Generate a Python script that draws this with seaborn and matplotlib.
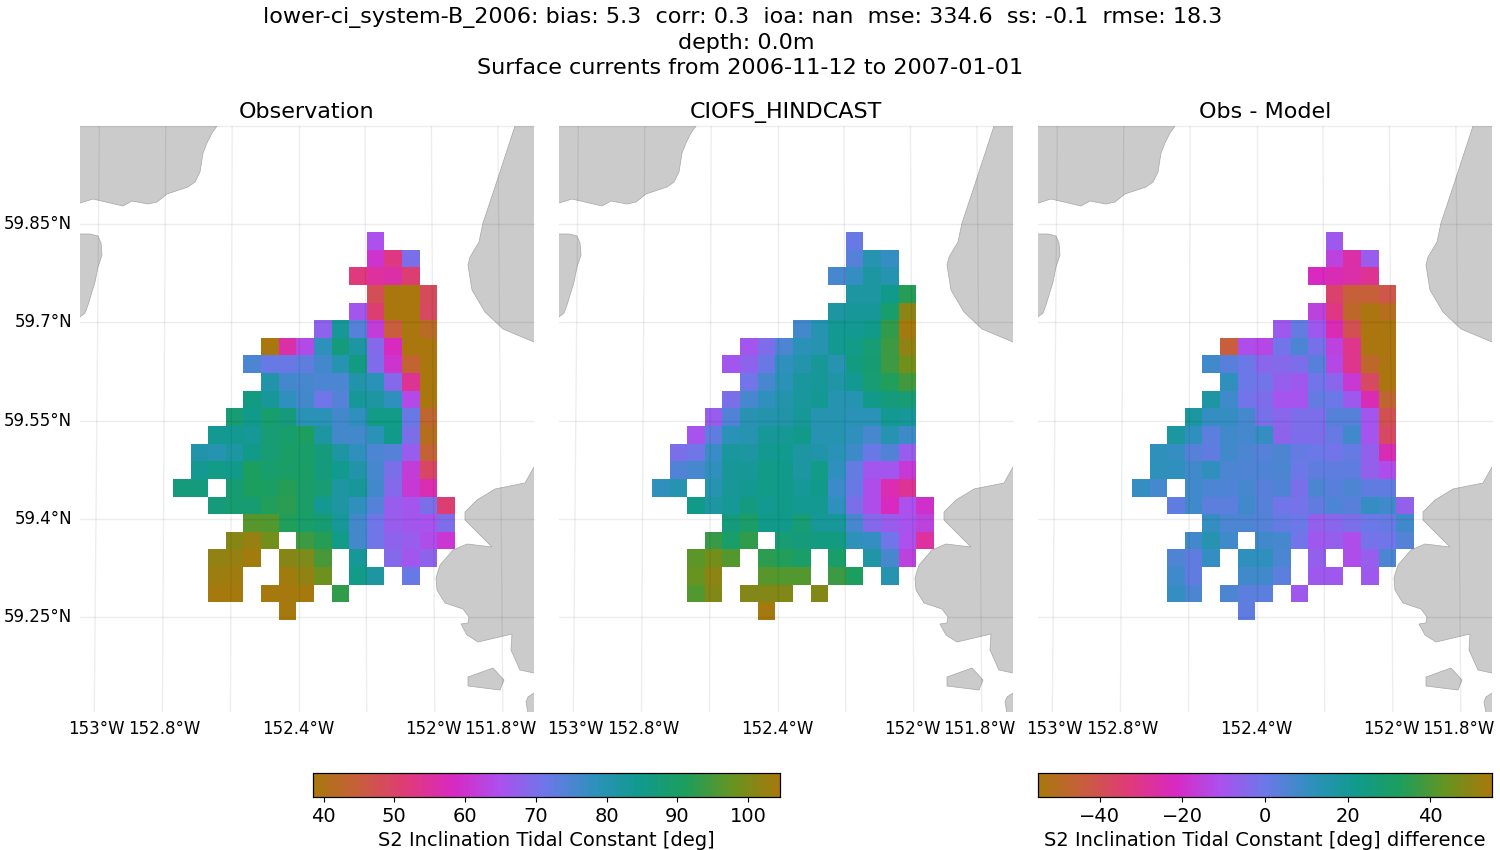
#!/usr/bin/env python3
"""Tidal constant comparison maps: observation, model and their difference."""

import numpy as np
import matplotlib
matplotlib.use("Agg")
import matplotlib.pyplot as plt
from matplotlib.colors import LinearSegmentedColormap
from matplotlib.transforms import ScaledTranslation
import seaborn as sns

_ = None

# values, one row per latitude band (north to south)
obs_values = [
    [_, _, _, _, _, _, _, _, _, _, _, 65, _, _, _, _],
    [_, _, _, _, _, _, _, _, _, _, _, 60, 52.5, 70, _, _],
    [_, _, _, _, _, _, _, _, _, _, 52, 55, 56, 51, _, _],
    [_, _, _, _, _, _, _, _, _, _, _, 48, 39, 39, 48.5, _],
    [_, _, _, _, _, _, _, _, _, _, 66, 51, 39, 39, 49, _],
    [_, _, _, _, _, _, _, _, 68, 83, 74, 61.5, 45, 39, 42, _],
    [_, _, _, _, _, 39, 56, 64, 78, 87, 82, 69, 58, 39, 39, _],
    [_, _, _, _, 75, 72, 72, 73, 76, 80, 86, 69.5, 60, 43.5, 39, _],
    [_, _, _, _, _, 81, 76, 75.5, 75, 75, 81, 79, 69, 54, 39, _],
    [_, _, _, _, 86, 83, 78, 76, 71, 74, 83, 82, 78, 64, 39, _],
    [_, _, _, 88, 85, 89, 87, 79, 79, 76, 78, 85.5, 85.5, 72, 43, _],
    [_, _, 84, 84, 83.5, 88, 89, 91, 82, 76, 76, 79, 85, 70, 41, _],
    [_, 81, 80, 82, 85, 88, 90, 89.5, 87, 82, 78, 75, 74, 67, 44, _],
    [_, 84, 85.5, 85, 91, 89, 90, 90, 87, 84.5, 81, 75.5, 70, 61.5, 49.5, _],
    [87, 87, _, 88.5, 91, 90.5, 92, 90, 88, 82, 83, 76, 69, 61, 57, _],
    [_, _, 87, 88.5, 88.5, 91.5, 92.5, 90, 84, 82, 78, 74, 67, 66, 70, 51],
    [_, _, _, _, 96.5, 96, 91.5, 89.5, 88.5, 83, 76, 71, 67, 66, 65.5, 69.5],
    [_, _, _, 101, 102.5, 99, _, 94, 92, 85.5, 76, 71, 68, 67, 64.5, 60.5],
    [_, _, 102, 102.5, 103.5, _, 101, 100, 95, _, 83, _, 69, 66, 68, _],
    [_, _, 103, 103.5, _, _, 103.5, 102, 98.5, _, 85.5, 82, _, 72, _, _],
    [_, _, 104, 104, _, 104, 104, 104, _, 93, _, _, _, _, _, _],
    [_, _, _, _, _, _, 104, _, _, _, _, _, _, _, _, _],
]

model_values = [
    [_, _, _, _, _, _, _, _, _, _, _, 72, _, _, _, _],
    [_, _, _, _, _, _, _, _, _, _, _, 74, 80, 77.5, _, _],
    [_, _, _, _, _, _, _, _, _, _, 75.5, 77.5, 82, 80, _, _],
    [_, _, _, _, _, _, _, _, _, _, _, 82, 82, 85, 92, _],
    [_, _, _, _, _, _, _, _, _, _, 82, 83, 83, 89, 101.5, _],
    [_, _, _, _, _, _, _, _, 76, 80, 84, 84, 85, 93, 104, _],
    [_, _, _, _, _, 66, 69.5, 75, 79, 80, 84, 85.5, 88, 94, 102, _],
    [_, _, _, _, 66, 68, 72, 78, 80.5, 83, 80, 86, 88.5, 94, 99, _],
    [_, _, _, _, _, 71, 75.5, 79, 82.5, 83, 81.5, 84, 88, 91.5, 94.5, _],
    [_, _, _, _, 70, 75.5, 78, 80.5, 82.5, 84, 80, 80, 85, 87, 88, _],
    [_, _, _, 67, 74.5, 79.5, 80.5, 81, 83, 80, 80, 79, 79, 84, 83, _],
    [_, _, 65.5, 73, 79, 80, 83, 83.5, 85, 79.5, 80, 78, 75.5, 80, 76.5, _],
    [_, 70, 71, 77, 82.5, 82, 84, 84.5, 82, 81, 79, 76.5, 72, 74.5, 67, _],
    [_, 74.5, 75.5, 78, 83, 83.5, 85.5, 85, 82, 85.5, 78, 72.5, 66, 66, 61, _],
    [78, 80, _, 80, 83, 84, 85.5, 85, 83.5, 85, 76.5, 72, 64.5, 57, 54, _],
    [_, _, 85, 82, 83.5, 86.5, 84, 85, 84, 84, 78, 70, 64.5, 58, 65, 59.5],
    [_, _, _, _, 87, 90, 85, 85, 88, 83, 83, 75.5, 69, 67, 65.5, 62.5],
    [_, _, _, 93.5, 89.5, 93, _, 88, 87, 86.5, 86, 78.5, 77.5, 71, 65, 55],
    [_, _, 97, 99, 96, _, 92.5, 91.5, 90, _, 89.5, _, 81.5, 75.5, 62.5, _],
    [_, _, 98, 101.5, _, _, 96.5, 96, 96, _, 94, 91, _, 80, _, _],
    [_, _, 96, 100.5, _, 100.5, 100.5, 100.5, _, 100.5, _, _, _, _, _, _],
    [_, _, _, _, _, _, 104, _, _, _, _, _, _, _, _, _],
]

diff_values = [
    [_, _, _, _, _, _, _, _, _, _, _, -9, _, _, _, _],
    [_, _, _, _, _, _, _, _, _, _, _, -15, -26, -7.5, _, _],
    [_, _, _, _, _, _, _, _, _, _, -22, -24, -25.5, -29, _, _],
    [_, _, _, _, _, _, _, _, _, _, _, -35.5, -45, -45, -42, _],
    [_, _, _, _, _, _, _, _, _, _, -15, -31, -48, -54, -51, _],
    [_, _, _, _, _, _, _, _, -9, 1.5, -9, -24, -40, -54, -54, _],
    [_, _, _, _, _, -44, -12, -13, -1, 6, -2, -15, -30, -54, -54, _],
    [_, _, _, _, 8, 3.5, 0, -5, -4, -3, 3.5, -13, -30, -48, -54, _],
    [_, _, _, _, _, 11, 0, -1, -7, -9, -1, -5, -18, -37, -54, _],
    [_, _, _, _, 17, 8, -1, -3, -10, -10, 1.5, 0, -8.5, -24, -47, _],
    [_, _, _, 18, 10, 10, 7, -2, -5, -3, -3, 4, 4, -9.5, -40, _],
    [_, _, 18, 11, 3, 8, 7, 10, -6, -3, -3, 1, 8, -10, -37, _],
    [_, 12, 10, 4, 2, 8, 6, 4, 6, 1.5, 0, -1, 1, -6.5, -24, _],
    [_, 12, 11, 8, 11, 6, 5.5, 5.5, 6, 0, 2.5, 2.5, 2.5, -6.5, -12, _],
    [10, 7, _, 8, 6, 5.5, 7, 3.5, 5.5, -2.5, 6, 3.5, 6, 2, 2, _],
    [_, _, 2, 8, 3, 3, 8, 4, -1, -1.5, 2, 6, 3.5, 10, 8, -6.5],
    [_, _, _, _, 10, 6, 6, 4.5, 1.5, 0, -6.5, -5, -2.5, 0, 1, 8],
    [_, _, _, 8, 14, 8, _, 8, 7, -1, -9, -7, -12, -1.5, -0.5, 4.5],
    [_, _, 5.5, 2, 10, _, 11, 11, 6, _, -6.5, _, -12, -7, 6, _],
    [_, _, 8, 2, _, _, 8, 8, 3, _, -9, -9, _, -9, _, _],
    [_, _, 10, 6, _, 6, 3, 3, _, -9, _, _, _, _, _, _],
    [_, _, _, _, _, _, 2, _, _, _, _, _, _, _, _, _],
]

panel_titles = ["Observation", "CIOFS_HINDCAST", "Obs - Model"]
lon_ticks = [-153.0, -152.8, -152.4, -152.0, -151.8]
lon_labels = ["153°W", "152.8°W", "152.4°W", "152°W", "151.8°W"]
lon_lines = [-153.0, -152.8, -152.6, -152.4, -152.2, -152.0, -151.8]
lat_ticks = [59.85, 59.7, 59.55, 59.4, 59.25]
lat_labels = ["59.85°N", "59.7°N", "59.55°N", "59.4°N", "59.25°N"]
lat_lines = [60.0, 59.85, 59.7, 59.55, 59.4, 59.25]

# coastline outlines, traced in picture pixels of the first panel;
# corners run past the panel edge so only the shore gets an outline
land_shapes = [
    [(70, 110), (225, 110), (217, 126), (212, 133), (207, 143), (203, 153), (200, 172), (195, 182),
     (188, 187), (167, 194), (157, 202), (148, 204), (132, 201), (123, 206), (93, 199), (80, 203), (70, 207)],
    [(70, 234), (90, 234), (98, 236), (101, 243), (102, 255), (98, 267), (95, 282),
     (88, 305), (85, 313), (80, 317), (70, 322)],
    [(520, 110), (515, 126), (495, 187), (483, 223), (479, 242), (470, 257), (468, 265), (472, 290),
     (485, 312), (503, 329), (534, 342), (545, 346), (545, 110)],
    [(545, 450), (534, 467), (525, 483), (495, 489), (477, 500), (465, 512), (465, 520), (477, 532),
     (492, 547), (467, 544), (453, 550), (440, 565), (436, 578), (437, 590), (445, 603),
     (463, 609), (469, 617), (468, 623), (461, 624), (467, 635), (478, 642), (512, 634),
     (511, 650), (520, 670), (534, 673), (545, 674)],
    [(468, 677), (493, 668), (504, 680), (500, 690), (468, 686)],
    [(545, 688), (534, 693), (528, 697), (526, 702), (528, 713), (530, 725), (545, 725)],
]

# cmocean "phase" style cyclic map
phase_colors = ["#a8780c", "#c95d3e", "#e03a79", "#d829c2", "#ac50ee", "#6c78e8",
                "#2f90be", "#109a8d", "#1d9e5c", "#669420", "#a8780c"]
phase = LinearSegmentedColormap.from_list("phase", phase_colors, N=256)

LON_W, LON_E = -153.05, -151.70
LAT_S, LAT_N = 59.105, 60.0
FIG_W, FIG_H = 1500, 850
PANEL_LEFT = [80, 559, 1038]
PANEL_W, PANEL_TOP, PANEL_H = 454, 126, 586
GRID_BOX = (173, 232, 455, 620)


def pixel_to_map(x, y):
    lon = LON_W + (x - PANEL_LEFT[0]) / PANEL_W * (LON_E - LON_W)
    lat = LAT_N - (y - PANEL_TOP) / PANEL_H * (LAT_N - LAT_S)
    return lon, lat


def fig_box(left, top, width, height):
    return [left / FIG_W, 1 - (top + height) / FIG_H, width / FIG_W, height / FIG_H]


def draw_panel(fig, left, values, title, vmin, vmax, cbar_ax, grid_shift=0, show_lat=False):
    ax = fig.add_axes(fig_box(left, PANEL_TOP, PANEL_W, PANEL_H))
    ax.set_xlim(LON_W, LON_E)
    ax.set_ylim(LAT_S, LAT_N)

    for shape in land_shapes:
        pts = [pixel_to_map(x, y) for x, y in shape]
        ax.fill(*zip(*pts), facecolor="#cbcbcb", edgecolor="#a6a6a6", linewidth=0.5, zorder=1)

    lon0, lat1 = pixel_to_map(GRID_BOX[0] + grid_shift, GRID_BOX[1])
    lon1, lat0 = pixel_to_map(GRID_BOX[2] + grid_shift, GRID_BOX[3])
    inset = ax.inset_axes([lon0, lat0, lon1 - lon0, lat1 - lat0], transform=ax.transData)
    grid = np.array(values, dtype=float)
    sns.heatmap(grid, ax=inset, cmap=phase, vmin=vmin, vmax=vmax, mask=np.isnan(grid),
                cbar=cbar_ax is not None, cbar_ax=cbar_ax,
                cbar_kws={"orientation": "horizontal"}, xticklabels=False, yticklabels=False)
    inset.patch.set_visible(False)
    inset.tick_params(length=0)

    # meridians lean slightly towards the pole
    lats = np.array([LAT_S, LAT_N])
    for lon in lon_lines:
        lean = -(lon + 152.4) * 0.0125 * (lats - 59.55) / 0.45
        ax.plot(lon + lean, lats, color="black", alpha=0.07, lw=1, zorder=6)
    for lat in lat_lines:
        ax.plot([LON_W, LON_E], [lat, lat], color="black", alpha=0.07, lw=1, zorder=6, clip_on=False)

    ax.set_xticks(lon_ticks, lon_labels, fontsize=12)
    ax.tick_params(axis="x", length=0, pad=5.5)
    if show_lat:
        ax.set_yticks(lat_ticks, lat_labels, fontsize=12)
        ax.tick_params(axis="y", length=0, pad=5.5)
        up = ScaledTranslation(0, 2 / 100, fig.dpi_scale_trans)
        for label in ax.get_yticklabels():
            label.set_transform(label.get_transform() + up)
    else:
        ax.set_yticks([])
    for sp in ax.spines.values():
        sp.set_visible(False)
    ax.set_title(title, fontsize=16, pad=6)
    return ax


def style_cbar(cbar_ax, label, ticks):
    cbar_ax.set_xticks(ticks)
    cbar_ax.tick_params(axis="x", labelsize=14, length=3.5, width=0.8, pad=3.5, bottom=True)
    cbar_ax.set_xlabel(label, fontsize=14, labelpad=4)
    for sp in cbar_ax.spines.values():
        sp.set_visible(True)
        sp.set_linewidth(0.8)
        sp.set_color("black")


def main():
    sns.set_style("white", {"text.color": "black", "axes.labelcolor": "black",
                            "xtick.color": "black", "ytick.color": "black"})
    plt.rcParams["font.family"] = ["DejaVu Sans"]
    fig = plt.figure(figsize=(FIG_W / 100, FIG_H / 100), dpi=100)

    cax_abs = fig.add_axes(fig_box(313, 773, 467, 24))
    cax_diff = fig.add_axes(fig_box(1038, 773, 454, 24))

    draw_panel(fig, PANEL_LEFT[0], obs_values, panel_titles[0], 38.5, 104.5, cax_abs, show_lat=True)
    draw_panel(fig, PANEL_LEFT[1], model_values, panel_titles[1], 38.5, 104.5, None)
    draw_panel(fig, PANEL_LEFT[2], diff_values, panel_titles[2], -55, 55, cax_diff, grid_shift=1)

    style_cbar(cax_abs, "S2 Inclination Tidal Constant [deg]", [40, 50, 60, 70, 80, 90, 100])
    style_cbar(cax_diff, "S2 Inclination Tidal Constant [deg] difference", [-40, -20, 0, 20, 40])

    fig.suptitle("lower-ci_system-B_2006: bias: 5.3  corr: 0.3  ioa: nan  mse: 334.6  ss: -0.1  rmse: 18.3  \n"
                 "depth: 0.0m \nSurface currents from 2006-11-12 to 2007-01-01",
                 fontsize=16, x=0.5, y=0.992, va="top", linespacing=1.33)
    fig.savefig("out.png", dpi=100)


if __name__ == "__main__":
    main()
